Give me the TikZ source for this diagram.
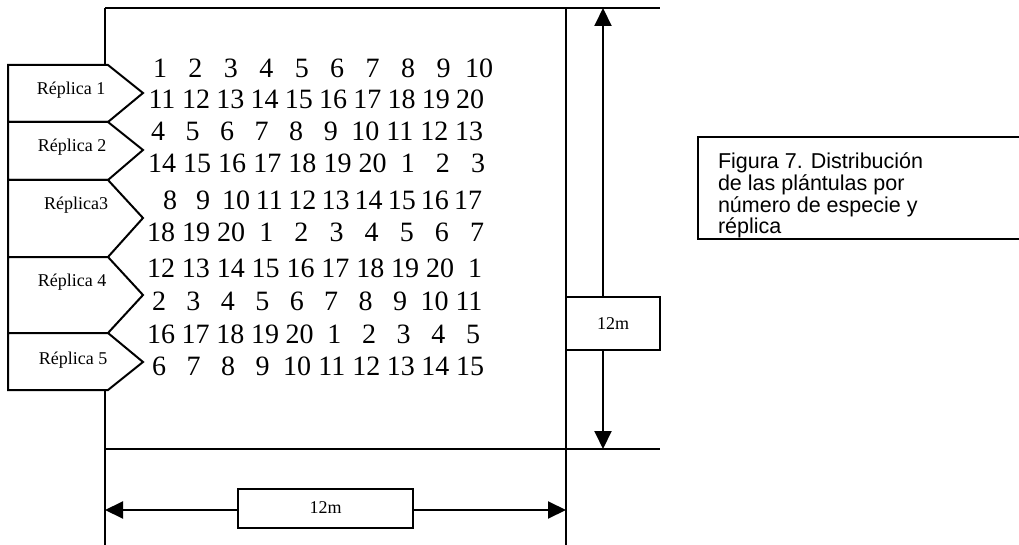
\documentclass[tikz,border=0pt]{standalone}
\usepackage{fontspec}
\setmainfont{Liberation Serif}
\newfontfamily\capfont{Liberation Sans}
\usetikzlibrary{arrows.meta}
\begin{document}
\begin{tikzpicture}[x=1pt,y=-1pt,
  line width=2pt,
  num/.style={inner sep=0pt,font=\fontsize{28}{30}\selectfont},
  replabel/.style={inner sep=0pt,anchor=base,font=\fontsize{18}{20}\selectfont},
  chevron/.style={draw,fill=white,line join=miter},
  dimbox/.style={draw,fill=white,inner sep=0pt,font=\fontsize{18}{20}\selectfont},
  dimarrow/.style={-{Triangle[length=18pt,width=17pt]}}]
\useasboundingbox (0,0) rectangle (1019,545);

% plot frame
\draw (105,8) -- (660,8);
\draw (105,449) -- (660,449);
\draw (566,8) -- (566,545);
\draw (105,8) -- (105,545);

% replicate tags on the left edge
\draw[chevron] (8,65) -- (108,65) -- (143,93) -- (108,122) -- (8,122) -- cycle;
\draw[chevron] (8,122) -- (108,122) -- (143,150) -- (108,180) -- (8,180) -- cycle;
\draw[chevron] (8,180) -- (108,180) -- (143,218) -- (108,257) -- (8,257) -- cycle;
\draw[chevron] (8,257) -- (108,257) -- (143,295) -- (108,333) -- (8,333) -- cycle;
\draw[chevron] (8,333) -- (108,333) -- (143,362) -- (108,390) -- (8,390) -- cycle;
\node[replabel] (r1) at (71,95) {Réplica 1};
\node[replabel] (r2) at (72,152) {Réplica 2};
\node[replabel] (r3) at (76,210) {Réplica3};
\node[replabel] (r4) at (72,286) {Réplica 4};
\node[replabel] (r5) at (73,364) {Réplica 5};

% species numbers, one row per line of seedlings
\foreach \yy/\xa/\xb/\lst [count=\r] in {
  68/160/479/{1,2,3,4,5,6,7,8,9,10},
  99/162/470/{11,12,13,14,15,16,17,18,19,20},
  131/158/469/{4,5,6,7,8,9,10,11,12,13},
  163/162/478/{14,15,16,17,18,19,20,1,2,3},
  200/170/468/{8,9,10,11,12,13,14,15,16,17},
  232/161/477/{18,19,20,1,2,3,4,5,6,7},
  268/161/475/{12,13,14,15,16,17,18,19,20,1},
  301/159/469/{2,3,4,5,6,7,8,9,10,11},
  334/161/473/{16,17,18,19,20,1,2,3,4,5},
  366/159/470/{6,7,8,9,10,11,12,13,14,15}}{
  \foreach \n [count=\c from 0] in \lst {
    \node[num] (n-\r-\c) at ({\xa+(\xb-\xa)/9*\c},\yy) {\n};
  }
}

% vertical dimension
\node[dimbox,minimum width=94pt,minimum height=53pt] (vbox) at (613,323.5) {12m};
\coordinate (vtop) at (603,8);
\coordinate (vbot) at (603,449);
\draw[dimarrow] (vtop |- vbox.north) -- (vtop);
\draw[dimarrow] (vbot |- vbox.south) -- (vbot);

% horizontal dimension
\node[dimbox,minimum width=175pt,minimum height=39pt] (hbox) at (325.5,508) {12m};
\coordinate (hleft) at (105,510);
\coordinate (hright) at (566,510);
\draw[dimarrow] (hbox.west |- hleft) -- (hleft);
\draw[dimarrow] (hbox.east |- hright) -- (hright);

% caption frame (open on the right)
\draw (1019,137) -- (698,137) -- (698,239) -- (1019,239);
\node[inner sep=0pt,anchor=north west,align=left,
  font=\capfont\fontsize{21.5}{21.6}\selectfont] (cap) at (717,152)
  {Figura 7. Distribución\\de las plántulas por\\número de especie y\\réplica};
\end{tikzpicture}
\end{document}
